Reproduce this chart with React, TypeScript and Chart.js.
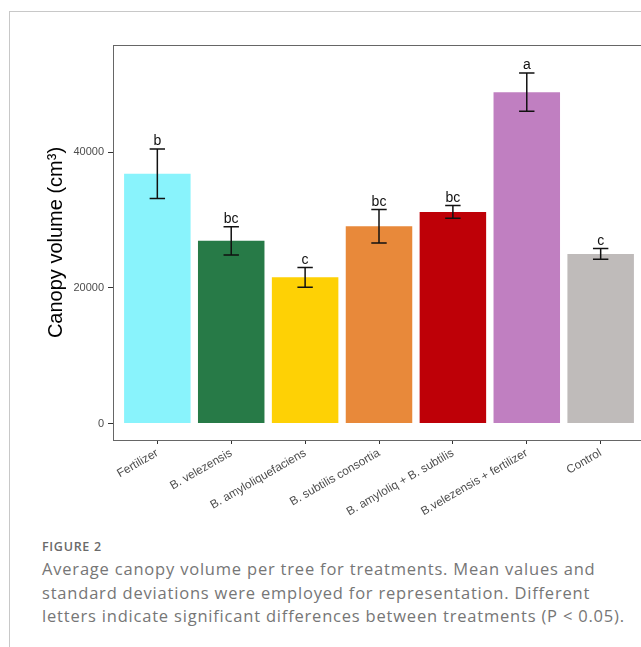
import React, { useEffect, useRef } from "react";
import { Chart, registerables } from "chart.js";

Chart.register(...registerables);

const categories = [
  "Fertilizer",
  "B. velezensis",
  "B. amyloliquefaciens",
  "B. subtilis consortia",
  "B. amyloliq + B. subtilis",
  "B.velezensis + fertilizer",
  "Control",
];
const means = [36840, 26950, 21570, 29090, 31210, 48880, 25030];
const sds = [3650, 2100, 1450, 2470, 940, 2820, 790];
const letters = ["b", "bc", "c", "bc", "bc", "a", "c"];
const colors = ["#89F3FC", "#277A47", "#FED105", "#E8893A", "#BE0007", "#C07FC1", "#BFBBBA"];
const yTicks = [0, 20000, 40000];

const errorBarPlugin = {
  id: "errorBars",
  afterDatasetsDraw(chart: any) {
    const { ctx, scales } = chart;
    const xs = scales.x;
    const ys = scales.y;
    ctx.save();
    ctx.strokeStyle = "#111";
    ctx.lineWidth = 1.5;
    ctx.fillStyle = "#111";
    ctx.font = "14px 'Liberation Sans', Arial, sans-serif";
    ctx.textAlign = "center";
    ctx.textBaseline = "alphabetic";
    means.forEach((m, i) => {
      const x = xs.getPixelForValue(i);
      const yt = ys.getPixelForValue(m + sds[i]);
      const yb = ys.getPixelForValue(m - sds[i]);
      const half = 7.7;
      ctx.beginPath();
      ctx.moveTo(x, yt);
      ctx.lineTo(x, yb);
      ctx.moveTo(x - half, yt);
      ctx.lineTo(x + half, yt);
      ctx.moveTo(x - half, yb);
      ctx.lineTo(x + half, yb);
      ctx.stroke();
      ctx.fillText(letters[i], x, yt - 4);
    });
    ctx.restore();
  },
};

const panelBorderPlugin = {
  id: "panelBorder",
  afterDraw(chart: any) {
    const { ctx, chartArea } = chart;
    ctx.save();
    ctx.strokeStyle = "#666";
    ctx.lineWidth = 1;
    ctx.strokeRect(
      Math.round(chartArea.left) + 0.5,
      Math.round(chartArea.top) + 0.5,
      chartArea.right - chartArea.left,
      chartArea.bottom - chartArea.top
    );
    ctx.restore();
  },
};

function App() {
  const ref = useRef<HTMLCanvasElement | null>(null);

  useEffect(() => {
    if (!ref.current) return;
    const chart = new Chart(ref.current, {
      type: "bar",
      data: {
        datasets: [
          {
            data: means.map((v, i) => ({ x: i, y: v })),
            backgroundColor: colors,
            borderWidth: 0,
            barPercentage: 0.9,
            categoryPercentage: 1.0,
          },
        ],
      },
      options: {
        animation: false,
        responsive: false,
        maintainAspectRatio: false,
        layout: { padding: { top: 45, left: 0, right: 0, bottom: 0 } },
        plugins: { legend: { display: false }, tooltip: { enabled: false } },
        scales: {
          x: {
            type: "linear",
            min: -0.6,
            max: 6.6,
            offset: false,
            afterBuildTicks: (s: any) => {
              s.ticks = categories.map((_, i) => ({ value: i }));
            },
            afterFit: (s: any) => {
              s.height = 80;
            },
            grid: {
              offset: false,
              drawOnChartArea: false,
              drawTicks: true,
              tickLength: 4,
              color: "#333",
              lineWidth: 1,
            },
            border: { display: false },
            ticks: {
              autoSkip: false,
              minRotation: 30,
              maxRotation: 30,
              padding: 2,
              color: "#4d4d4d",
              font: { family: "'Liberation Sans', Arial, sans-serif", size: 11.8 },
              callback: (v: any) => categories[Math.round(Number(v))] ?? "",
            },
          },
          y: {
            type: "linear",
            min: -2420,
            max: 55840,
            afterBuildTicks: (s: any) => {
              s.ticks = yTicks.map((v) => ({ value: v }));
            },
            afterFit: (s: any) => {
              s.width = 113;
            },
            grid: {
              drawDrawOnChartArea: false,
              drawOnChartArea: false,
              drawTicks: true,
              tickLength: 5,
              color: "#333",
              lineWidth: 1,
            },
            border: { display: false },
            ticks: {
              padding: 4,
              color: "#4d4d4d",
              font: { family: "'Liberation Sans', Arial, sans-serif", size: 11 },
              callback: (v: any) => String(v),
            },
            title: {
              display: true,
              text: "Canopy volume (cm³)",
              color: "#000",
              font: { family: "'Liberation Sans', Arial, sans-serif", size: 20 },
              padding: { top: 44, bottom: 0 },
            },
          },
        },
      },
      plugins: [errorBarPlugin, panelBorderPlugin],
    } as any);
    return () => chart.destroy();
  }, []);

  return (
    <div
      style={{
        position: "fixed",
        left: 0,
        top: 0,
        width: 641,
        height: 647,
        overflow: "hidden",
        background: "#fff",
      }}
    >
      <div
        style={{
          position: "absolute",
          left: 9,
          top: 11,
          width: 800,
          height: 800,
          borderLeft: "1px solid #c8c8c8",
          borderTop: "1px solid #c8c8c8",
        }}
      />
      <canvas
        ref={ref}
        width={645}
        height={520}
        style={{ position: "absolute", left: 0, top: 0 }}
      />
      <div
        style={{
          position: "absolute",
          left: 42,
          top: 537,
          fontFamily: "'Open Sans', sans-serif",
          color: "#767676",
          whiteSpace: "nowrap",
        }}
      >
        <div
          style={{
            fontSize: 12.5,
            fontWeight: 600,
            lineHeight: "20px",
            color: "#6a6a6a",
            letterSpacing: "0.7px",
          }}
        >
          FIGURE 2
        </div>
        <div style={{ fontSize: 16.5, lineHeight: "23.5px", letterSpacing: "0.8px" }}>
          Average canopy volume per tree for treatments. Mean values and
          <br />
          standard deviations were employed for representation. Different
          <br />
          letters indicate significant differences between treatments (P &lt; 0.05).
        </div>
      </div>
    </div>
  );
}

export default App;
